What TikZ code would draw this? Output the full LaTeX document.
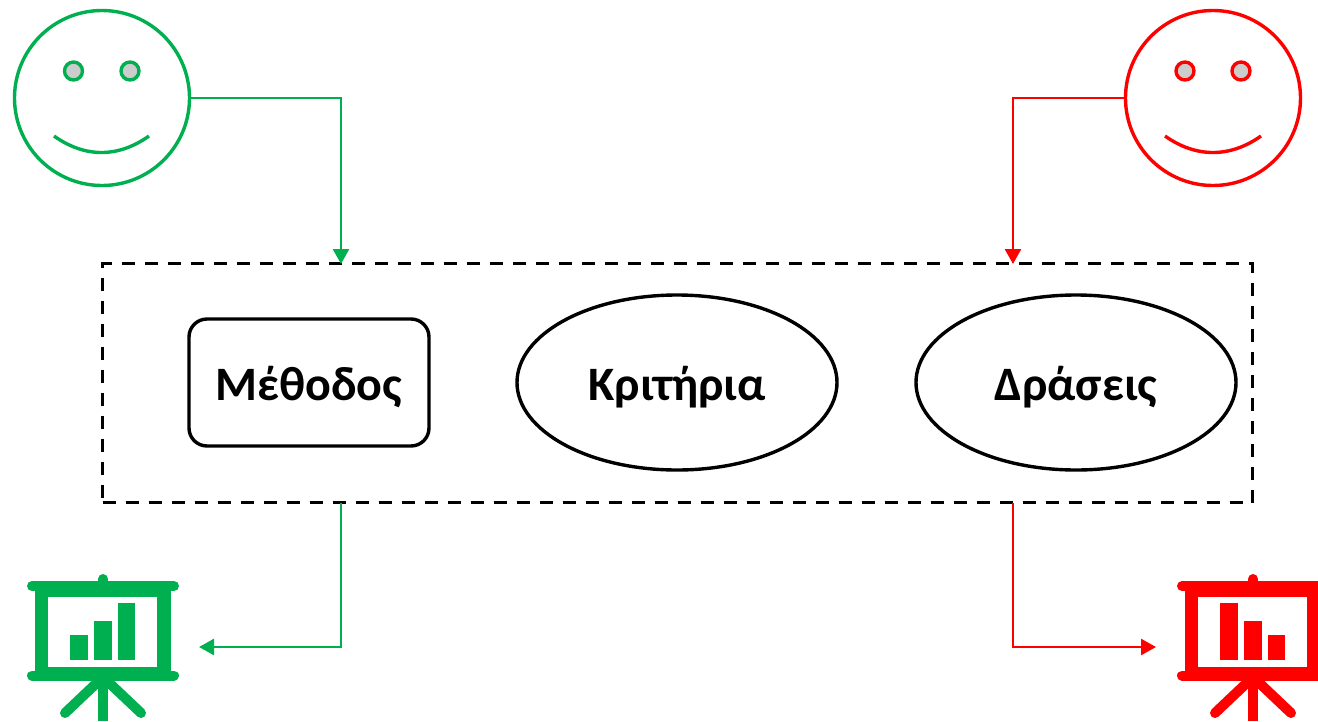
\documentclass[tikz,border=0pt]{standalone}
\usepackage{fontspec}
\setmainfont{Carlito}
\usetikzlibrary{arrows.meta,shapes.geometric}
\definecolor{grn}{HTML}{00B050}
\definecolor{rd}{HTML}{FF0000}
\tikzset{
  conn/.style={line width=2.6pt,-{Triangle[length=15pt,width=16pt]}},
  face/.style={circle,draw,line width=3.4pt,inner sep=0pt,minimum size=175pt},
  eye/.style={circle,draw,fill=black!20,line width=3.4pt,inner sep=0pt,minimum size=18pt},
  smile/.style={line width=3.4pt},
  item/.style={draw=black,line width=3.4pt,font=\fontsize{48}{54}\selectfont\bfseries,align=center,inner sep=0pt,text height=45pt,text depth=10pt},
  oval/.style={item,ellipse,minimum width=320pt,minimum height=175pt},
  frame/.style={draw=black,dash pattern=on 13pt off 10pt,line width=3.4pt,minimum width=1150pt,minimum height=239pt,inner sep=0pt},
  icoline/.style={line width=10pt,line cap=round},
  icostem/.style={line width=10pt,line cap=butt},
}
\newcommand{\screen}[2]{% x offset, colour
  \begin{scope}[xshift=#1pt,color=#2]
    \draw[icoline] (32,586) -- (174,586);
    \draw[icoline] (32,675.5) -- (174,675.5);
    \draw[icoline] (103,579) -- (103,588);
    \fill (35,586) rectangle (48,675);
    \fill (157,586) rectangle (171,675);
    \fill (35,586) rectangle (171,597);
    \fill (35,667) rectangle (171,675);
    \draw[icostem] (103,675) -- (103,721);
    \draw[icoline] (103,677) -- (65,713);
    \draw[icoline] (103,677) -- (141,713);
  \end{scope}
}
\begin{document}
\begin{tikzpicture}[x=1pt,y=-1pt]
\useasboundingbox (0,0) rectangle (1318,721);
\clip (0,0) rectangle (1318,721);
% frame and items
\node[frame] (frame) at (677.5,383) {};
\node[item,rounded corners=18pt,minimum width=240pt,minimum height=127pt] (m) at (309,382.5) {Μέθοδος};
\node[oval] (k) at (677,382.5) {Κριτήρια};
\node[oval] (d) at (1076,382.5) {Δράσεις};
% faces
\node[face,draw=grn] (gf) at (102,98) {};
\node[eye,draw=grn] (ge1) at (73.5,71) {};
\node[eye,draw=grn] (ge2) at (130,71) {};
\coordinate (gs1) at (54,136);
\coordinate (gs2) at (149,136);
\draw[smile,grn] (gs1) .. controls (85,158) and (118,158) .. (gs2);
\node[face,draw=rd] (rf) at (1213,98) {};
\node[eye,draw=rd] (re1) at (1185,71) {};
\node[eye,draw=rd] (re2) at (1241,71) {};
\coordinate (rs1) at (1165,136);
\coordinate (rs2) at (1261,136);
\draw[smile,rd] (rs1) .. controls (1196,158) and (1230,158) .. (rs2);
% icons
\screen{0}{grn}
\fill[grn] (70,635) rectangle (88,660);
\fill[grn] (94,621) rectangle (112,660);
\fill[grn] (118,603) rectangle (135,660);
\screen{1150}{rd}
\fill[rd] (1220,603) rectangle (1238,660);
\fill[rd] (1244,621) rectangle (1262,660);
\fill[rd] (1268,635) rectangle (1285,660);
% connectors
\coordinate (gt) at (341,264);
\coordinate (rt) at (1013,264);
\coordinate (gb) at (341,503);
\coordinate (rb) at (1013,503);
\coordinate (gi) at (199,647);
\coordinate (ri) at (1156,647);
\draw[conn,grn] (gf.east) -| (gt);
\draw[conn,rd] (rf.west) -| (rt);
\draw[conn,grn] (gb) |- (gi);
\draw[conn,rd] (rb) |- (ri);
\end{tikzpicture}
\end{document}
